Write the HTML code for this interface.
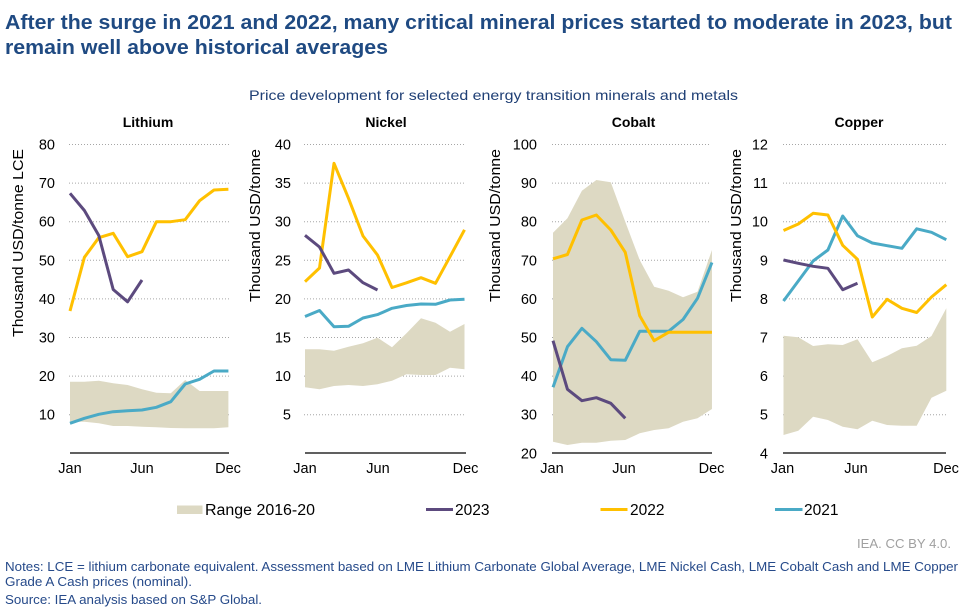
<!DOCTYPE html>
<html><head><meta charset="utf-8"><style>
html,body{margin:0;padding:0;background:#fff;}
svg{display:block;}
text{font-family:"Liberation Sans",Arial,sans-serif;}
</style></head><body>
<svg width="964" height="609" viewBox="0 0 964 609" xmlns="http://www.w3.org/2000/svg">
<rect width="964" height="609" fill="#fff"/>
<!-- Title -->
<text x="5" y="29" font-size="20" font-weight="bold" fill="#1f4a82" textLength="947" lengthAdjust="spacingAndGlyphs">After the surge in 2021 and 2022, many critical mineral prices started to moderate in 2023, but</text>
<text x="5" y="54" font-size="20" font-weight="bold" fill="#1f4a82" textLength="383" lengthAdjust="spacingAndGlyphs">remain well above historical averages</text>
<text x="249" y="100" font-size="14" fill="#1f3f75" textLength="489" lengthAdjust="spacingAndGlyphs">Price development for selected energy transition minerals and metals</text>

<g stroke="#a6a6a6" stroke-width="1" stroke-dasharray="1,2" fill="none">
<path d="M69 144.5H229M69 183.1H229M69 221.7H229M69 260.3H229M69 298.9H229M69 337.5H229M69 376.1H229M69 414.7H229"/>
<path d="M304 144.5H466M304 183.1H466M304 221.7H466M304 260.3H466M304 298.9H466M304 337.5H466M304 376.1H466M304 414.7H466"/>
<path d="M552 144.5H711M552 183.1H711M552 221.7H711M552 260.3H711M552 298.9H711M552 337.5H711M552 376.1H711M552 414.7H711"/>
<path d="M783 144.5H946M783 183.1H946M783 221.7H946M783 260.3H946M783 298.9H946M783 337.5H946M783 376.1H946M783 414.7H946"/>
</g>

<!-- Ranges -->
<g fill="#ddd9c3" stroke="none">
<polygon points="70,381.7 84.4,381.7 98.8,380.7 113.2,383.3 127.6,385 142,389.3 156.4,392.7 170.8,393.3 185.2,380 199.6,391 214,391 228.4,391 228.4,427.3 214,428.3 199.6,428.3 185.2,428.3 170.8,428 156.4,427.3 142,426.7 127.6,426 113.2,426 98.8,423.3 84.4,421.7 70,421.7"/>
<polygon points="305,349.3 319.5,349.3 334,350.7 348.5,346.7 363,343.3 377.5,337.7 392,347.3 406.5,333.3 421,318.3 435.5,322.7 450,331.7 464.5,324 464.5,369.3 450,367.7 435.5,375 421,375 406.5,374.3 392,380.7 377.5,384.3 363,386 348.5,385 334,386 319.5,389.3 305,387.3"/>
<polygon points="553,232.7 567.45,218.3 581.9,190.7 596.35,180 610.8,182.3 625.25,221.7 639.7,260 654.15,286.7 668.6,290.7 683.05,297.3 697.5,291.7 711.95,250 711.95,409 697.5,418.3 683.05,421.7 668.6,428.3 654.15,430 639.7,433.3 625.25,440 610.8,440.7 596.35,442.7 581.9,442.7 567.45,445 553,441.7"/>
<polygon points="783.5,335.7 798.3,337.3 813.1,346 827.9,344.3 842.7,345 857.5,339.3 872.3,362.3 887.1,356 901.9,348.3 916.7,345.7 931.5,336 946.3,308.3 946.3,390.7 931.5,397.7 916.7,425.7 901.9,425.7 887.1,425 872.3,420.7 857.5,429.3 842.7,426.7 827.9,420 813.1,416.7 798.3,430.7 783.5,435"/>
</g>

<!-- Axis lines -->
<g stroke="#000" stroke-width="1.2">
<path d="M70 453H229M305 453H466M552 453H712M783 453H946"/>
</g>

<!-- Series -->
<g fill="none" stroke-width="3" stroke-linejoin="round" stroke-linecap="butt">
<!-- Lithium -->
<polyline stroke="#4aaac6" points="70,423.3 84.4,418.3 98.8,414.3 113.2,411.7 127.6,410.7 142,410 156.4,407.3 170.8,401.7 185.2,384 199.6,379.3 214,371 228.4,371"/>
<polyline stroke="#ffc000" points="70,311 84.4,257.3 98.8,237.7 113.2,233.3 127.6,256.7 142,251.7 156.4,221.7 170.8,221.7 185.2,219.7 199.6,200.7 214,190 228.4,189.3"/>
<polyline stroke="#5c4a7e" points="70,193.3 84.4,210.5 98.8,235.5 113.2,289.5 127.6,301.8 142,280"/>
<!-- Nickel -->
<polyline stroke="#4aaac6" points="305,316.5 319.5,310.5 334,326.8 348.5,326.3 363,318 377.5,314.6 392,308.3 406.5,305.5 421,304 435.5,304.3 450,300 464.5,299.2"/>
<polyline stroke="#ffc000" points="305,281.7 319.5,268 334,163.3 348.5,198.3 363,236 377.5,255 392,287.5 406.5,282.8 421,277.7 435.5,283.3 450,256.7 464.5,229.8"/>
<polyline stroke="#5c4a7e" points="305,235.3 319.5,247 334,273.3 348.5,270 363,282.7 377.5,290"/>
<!-- Cobalt -->
<polyline stroke="#4aaac6" points="553,387.3 567.45,346.7 581.9,328.3 596.35,341.7 610.8,359.7 625.25,360.3 639.7,331.3 654.15,331.3 668.6,331.3 683.05,319.5 697.5,298.3 711.95,262.5"/>
<polyline stroke="#ffc000" points="553,258.8 567.45,254.5 581.9,220 596.35,215 610.8,230 625.25,252.3 639.7,315.8 654.15,340.7 668.6,332.3 683.05,332.3 697.5,332.3 711.95,332.3"/>
<polyline stroke="#5c4a7e" points="553,340.7 567.45,389.3 581.9,400.7 596.35,397.7 610.8,403.3 625.25,418.3"/>
<!-- Copper -->
<polyline stroke="#4aaac6" points="783.5,301 798.3,281 813.1,261 827.9,250 842.7,216 857.5,235.8 872.3,243 887.1,245.7 901.9,248.3 916.7,228.8 931.5,232.3 946.3,239.7"/>
<polyline stroke="#ffc000" points="783.5,230.5 798.3,224 813.1,213.3 827.9,215 842.7,245.3 857.5,259.3 872.3,317 887.1,299.3 901.9,308.3 916.7,312.5 931.5,297 946.3,284.7"/>
<polyline stroke="#5c4a7e" points="783.5,260 798.3,263.3 813.1,266.3 827.9,268.3 842.7,289.7 857.5,283.3"/>
</g>

<!-- Panel titles -->
<g font-size="14" font-weight="bold" fill="#000" text-anchor="middle">
<text x="148" y="127">Lithium</text>
<text x="386" y="127">Nickel</text>
<text x="633.5" y="127">Cobalt</text>
<text x="859" y="127">Copper</text>
</g>

<!-- Y tick labels -->
<g font-size="14.5" fill="#000" text-anchor="end">
<text x="55" y="149.5">80</text><text x="55" y="188.1">70</text><text x="55" y="226.7">60</text><text x="55" y="265.3">50</text><text x="55" y="303.9">40</text><text x="55" y="342.5">30</text><text x="55" y="381.1">20</text><text x="55" y="419.7">10</text>
<text x="291" y="149.5">40</text><text x="291" y="188.1">35</text><text x="291" y="226.7">30</text><text x="291" y="265.3">25</text><text x="291" y="303.9">20</text><text x="291" y="342.5">15</text><text x="291" y="381.1">10</text><text x="291" y="419.7">5</text>
<text x="537" y="149.5">100</text><text x="537" y="188.1">90</text><text x="537" y="226.7">80</text><text x="537" y="265.3">70</text><text x="537" y="303.9">60</text><text x="537" y="342.5">50</text><text x="537" y="381.1">40</text><text x="537" y="419.7">30</text><text x="537" y="458.3">20</text>
<text x="768" y="149.5">12</text><text x="768" y="188.1">11</text><text x="768" y="226.7">10</text><text x="768" y="265.3">9</text><text x="768" y="303.9">8</text><text x="768" y="342.5">7</text><text x="768" y="381.1">6</text><text x="768" y="419.7">5</text><text x="768" y="458.3">4</text>
</g>

<!-- X tick labels -->
<g font-size="14.5" fill="#000" text-anchor="middle">
<text x="70" y="473">Jan</text><text x="142" y="473">Jun</text><text x="228" y="473">Dec</text>
<text x="305" y="473">Jan</text><text x="378" y="473">Jun</text><text x="465.5" y="473">Dec</text>
<text x="552" y="473">Jan</text><text x="624" y="473">Jun</text><text x="711.5" y="473">Dec</text>
<text x="782.5" y="473">Jan</text><text x="856" y="473">Jun</text><text x="946" y="473">Dec</text>
</g>

<!-- Y axis titles -->
<g font-size="15" fill="#000" text-anchor="middle">
<text transform="translate(23,243) rotate(-90)" textLength="188" lengthAdjust="spacingAndGlyphs">Thousand USD/tonne LCE</text>
<text transform="translate(260,225.5) rotate(-90)" textLength="153" lengthAdjust="spacingAndGlyphs">Thousand USD/tonne</text>
<text transform="translate(500,225.5) rotate(-90)" textLength="153" lengthAdjust="spacingAndGlyphs">Thousand USD/tonne</text>
<text transform="translate(741,225.5) rotate(-90)" textLength="153" lengthAdjust="spacingAndGlyphs">Thousand USD/tonne</text>
</g>

<!-- Legend -->
<rect x="177" y="505.5" width="25.5" height="8.5" fill="#ddd9c3"/>
<line x1="426" y1="509.5" x2="453" y2="509.5" stroke="#5c4a7e" stroke-width="3"/>
<line x1="600.5" y1="509.5" x2="627.5" y2="509.5" stroke="#ffc000" stroke-width="3"/>
<line x1="775" y1="509.5" x2="802.5" y2="509.5" stroke="#4aaac6" stroke-width="3"/>
<g font-size="15.5" fill="#000">
<text x="205" y="515" textLength="110" lengthAdjust="spacingAndGlyphs">Range 2016-20</text>
<text x="455" y="515">2023</text>
<text x="630" y="515">2022</text>
<text x="804" y="515">2021</text>
</g>

<text x="857" y="548" font-size="13" fill="#a0a0a0" textLength="94" lengthAdjust="spacingAndGlyphs">IEA. CC BY 4.0.</text>

<!-- Notes -->
<g font-size="12.5" fill="#264a8a">
<text x="5" y="571" textLength="953" lengthAdjust="spacingAndGlyphs">Notes: LCE = lithium carbonate equivalent. Assessment based on LME Lithium Carbonate Global Average, LME Nickel Cash, LME Cobalt Cash and LME Copper</text>
<text x="5" y="586" textLength="187" lengthAdjust="spacingAndGlyphs">Grade A Cash prices (nominal).</text>
<text x="5" y="604" textLength="257" lengthAdjust="spacingAndGlyphs">Source: IEA analysis based on S&amp;P Global.</text>
</g>
</svg>
</body></html>
